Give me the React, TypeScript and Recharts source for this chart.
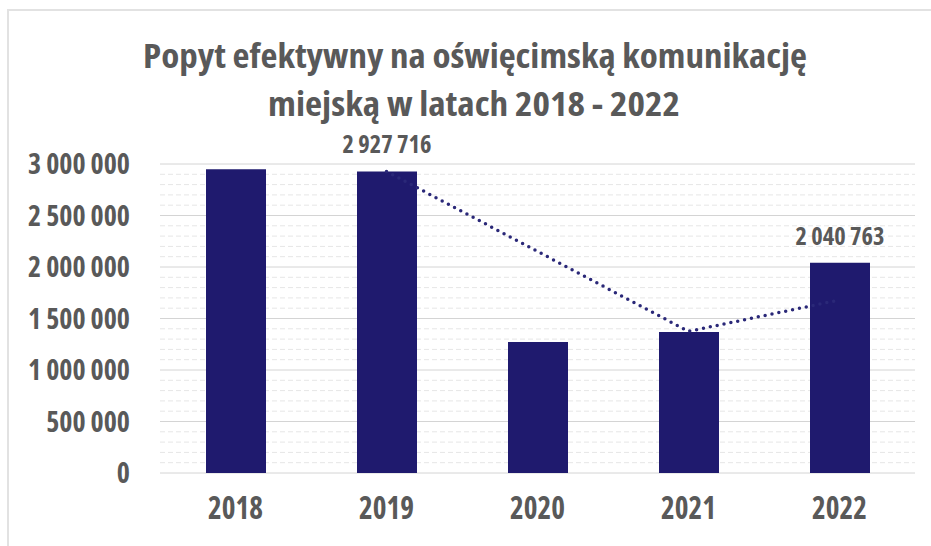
import { Bar, CartesianGrid, ComposedChart, LabelList, Line, XAxis, YAxis } from 'recharts'

const years = ['2018', '2019', '2020', '2021', '2022']
const passengers = [2950000, 2927716, 1273000, 1370000, 2040763]
const trend = [null, 2927716, null, 1375000, 1680000]
const barLabels = [null, '2 927 716', null, null, '2 040 763']

const yTicks = [0, 500000, 1000000, 1500000, 2000000, 2500000, 3000000]
const minorLines = [
  100000, 200000, 300000, 400000, 600000, 700000, 800000, 900000,
  1100000, 1200000, 1300000, 1400000, 1600000, 1700000, 1800000, 1900000,
  2100000, 2200000, 2300000, 2400000, 2600000, 2700000, 2800000, 2900000
]

const data = years.map((year, i) => ({
  year,
  passengers: passengers[i],
  trend: trend[i],
  label: barLabels[i]
}))

const textGray = '#595959'
const navy = '#1f1a6e'
const font = "'Open Sans', 'DejaVu Sans Condensed', sans-serif"
const condensed = { fontStretch: 'condensed' as const }

const fmt = (v: number) => String(v).replace(/\B(?=(\d{3})+(?!\d))/g, ' ')

function YTick({ x, y, payload }: any) {
  return (
    <text x={x} y={y} dy={10} textAnchor="end" fill={textGray} fontFamily={font}
      fontSize={28} fontWeight={700} style={condensed}>
      {fmt(payload.value)}
    </text>
  )
}

function XTick({ x, y, payload }: any) {
  return (
    <text x={x} y={y} dy={38} textAnchor="middle" fill={textGray} fontFamily={font}
      fontSize={32} fontWeight={700} style={condensed} textLength={55} lengthAdjust="spacingAndGlyphs">
      {payload.value}
    </text>
  )
}

function BarLabel({ x, y, width, value }: any) {
  if (!value) return null
  return (
    <text x={x + width / 2} y={y - 18} textAnchor="middle" fill={textGray} fontFamily={font}
      fontSize={24} fontWeight={700} style={condensed} textLength={89} lengthAdjust="spacingAndGlyphs">
      {value}
    </text>
  )
}

export default function App() {
  return (
    <div style={{ position: 'absolute', left: 0, top: 0, width: 931, height: 546, overflow: 'hidden', background: '#fff' }}>
      <div style={{ position: 'absolute', left: 7, top: 9, width: 960, height: 600, border: '2px solid #e2e2e2', boxSizing: 'border-box' }} />
      <svg style={{ position: 'absolute', left: 0, top: 0 }} width={931} height={140}>
        <text x={475} y={68} textAnchor="middle" fill={textGray} fontFamily={font} fontSize={34}
          fontWeight={700} style={condensed} textLength={664} lengthAdjust="spacingAndGlyphs">
          Popyt efektywny na oświęcimską komunikację
        </text>
        <text x={474} y={116} textAnchor="middle" fill={textGray} fontFamily={font} fontSize={34}
          fontWeight={700} style={condensed} textLength={412} lengthAdjust="spacingAndGlyphs">
          miejską w latach 2018 - 2022
        </text>
      </svg>
      <div style={{ position: 'absolute', left: 0, top: 0 }}>
        <ComposedChart width={931} height={546} data={data} margin={{ top: 164, right: 16, bottom: 0, left: 0 }}>
          <CartesianGrid vertical={false} horizontalValues={minorLines} stroke="#e6e6e6" strokeDasharray="5 3" />
          <CartesianGrid vertical={false} horizontalValues={yTicks} stroke="#d4d4d4" />
          <XAxis dataKey="year" height={73} axisLine={false} tickLine={false} tick={<XTick />} interval={0} />
          <YAxis width={160} domain={[0, 3000000]} ticks={yTicks} axisLine={false} tickLine={false}
            tickMargin={24} tick={<YTick />} interval={0} />
          <Line dataKey="trend" type="linear" connectNulls dot={false} stroke="#2a2878" strokeWidth={3.5}
            strokeDasharray="0 7" strokeLinecap="round" isAnimationActive={false} />
          <Bar dataKey="passengers" fill={navy} barSize={60} isAnimationActive={false}>
            <LabelList dataKey="label" content={<BarLabel />} />
          </Bar>
        </ComposedChart>
      </div>
    </div>
  )
}
